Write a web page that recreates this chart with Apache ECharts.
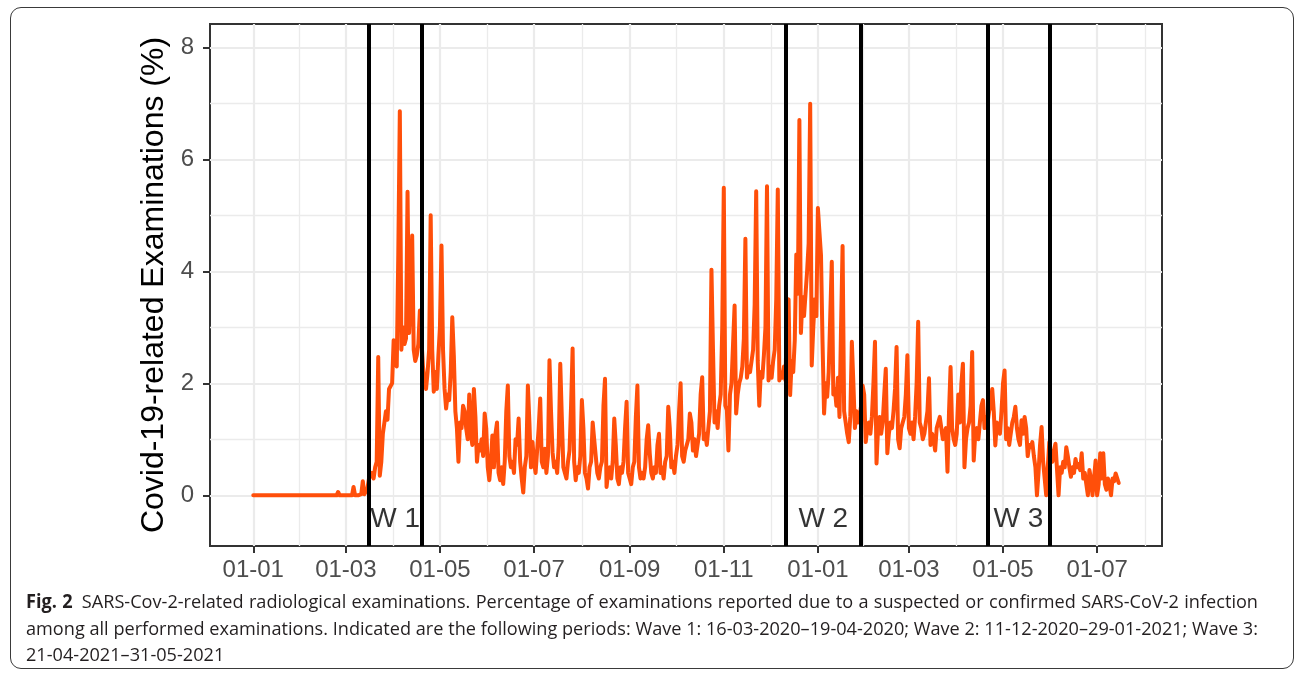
<!DOCTYPE html>
<html lang="en">
<head>
    <meta charset="UTF-8">
    <title>SARS-CoV-2-related radiological examinations</title>
    <script src="https://cdn.jsdelivr.net/npm/echarts@6.0.0/dist/echarts.min.js"></script>
    <style type="text/css">
        body { margin: 0; background: #fff; }
        #frame {
            position: absolute; left: 10px; top: 7px; width: 1284px; height: 662px;
            border: 1.3px solid #3a3a3a; border-radius: 11px; box-sizing: border-box;
        }
        #myChart { position: absolute; left: 0; top: 0; width: 1295px; height: 673px; }
        #caption {
            position: absolute; left: 26px; top: 588px;
            font-family: "Open Sans", "Noto Sans", sans-serif; font-size: 19px;
            line-height: 26.7px; color: #231f20; transform-origin: 0 0;
        }
        #caption .ln { white-space: nowrap; }
        #caption .j { text-align: justify; text-align-last: justify; }
        #caption b { margin-right: 4px; }
    </style>
</head>
<body>
<div id="frame"></div>
<div id="myChart"></div>
<div id="caption">
    <div class="ln j"><span><b>Fig. 2</b> SARS-Cov-2-related radiological examinations. Percentage of examinations reported due to a suspected or confirmed SARS-CoV-2 infection</span></div>
    <div class="ln j"><span>among all performed examinations. Indicated are the following periods: Wave 1: 16-03-2020–19-04-2020; Wave 2: 11-12-2020–29-01-2021; Wave 3:</span></div>
    <div class="ln"><span>21-04-2021–31-05-2021</span></div>
</div>

<script>
    // daily share (%) starting 2020-01-01, one row per week (Mon..Sun)
    var startDate = '2020-01-01';
    var values = [
        0, 0, 0, 0, 0,
        0, 0, 0, 0, 0, 0, 0,
        0, 0, 0, 0, 0, 0, 0,
        0, 0, 0, 0, 0, 0, 0,
        0, 0, 0, 0, 0, 0, 0,
        0, 0, 0, 0, 0, 0, 0,
        0, 0, 0, 0, 0, 0, 0,
        0, 0, 0, 0, 0, 0, 0,
        0, 0.06, 0, 0, 0, 0, 0,
        0, 0, 0, 0, 0.15, 0, 0,
        0, 0, 0.02, 0.25, 0.02, 0.05, 0.12,
        0.3, 0.35, 0.4, 0.3, 0.5, 0.6, 2.47,
        0.35, 0.6, 1.1, 1.3, 1.5, 1.35, 1.9,
        1.87, 2.0, 2.77, 2.5, 2.3, 4.3, 6.86,
        2.6, 3.0, 2.7, 2.8, 5.42, 2.9, 3.6,
        4.64, 2.6, 2.4, 2.5, 2.7, 3.3, 2.8,
        2.3, 2.0, 1.9, 2.2, 2.6, 5.0, 2.6,
        1.85, 2.2, 1.9, 2.5, 3.0, 4.46, 2.6,
        1.9, 1.55, 1.8, 1.7, 2.2, 3.18, 2.5,
        1.5, 1.2, 0.6, 1.3, 1.2, 1.6, 1.5,
        1.2, 1.0, 1.8, 1.1, 0.9, 1.9, 1.4,
        0.6, 0.9, 0.8, 1.0, 0.7, 1.46, 1.2,
        0.5, 0.27, 0.6, 1.07, 0.5, 1.1, 1.3,
        0.4, 0.27, 0.5, 0.2, 0.6, 1.5, 1.96,
        0.7, 0.5, 0.6, 0.4, 1.0, 0.9, 1.37,
        0.6, 0.3, 0.05, 0.5, 0.7, 1.96, 1.3,
        0.5, 0.95, 0.6, 0.4, 0.8, 1.2, 1.73,
        0.6, 0.5, 0.83, 0.4, 0.7, 2.41, 1.5,
        0.77, 0.5, 0.6, 0.4, 0.9, 2.35, 1.4,
        0.5, 0.4, 0.3, 0.6, 0.8, 1.6, 2.62,
        0.6, 0.27, 0.5, 0.4, 0.7, 1.7, 1.2,
        0.4, 0.3, 0.12, 0.5, 0.6, 1.3, 1.0,
        0.7, 0.4, 0.3, 0.5, 0.6, 1.6, 2.08,
        0.15, 0.4, 0.5, 0.3, 0.6, 1.37, 0.9,
        0.3, 0.2, 0.5, 0.4, 0.6, 1.2, 1.67,
        0.4, 0.3, 0.2, 0.5, 0.6, 1.4, 1.96,
        0.5, 0.3, 0.4, 0.3, 0.5, 1.0, 1.25,
        0.75, 0.4, 0.3, 0.5, 0.4, 0.9, 1.1,
        0.4, 0.5, 0.3, 0.6, 0.7, 1.58, 1.2,
        0.5, 0.6, 0.4, 0.7, 0.9, 1.5, 2.0,
        0.7, 0.6, 0.8, 0.9, 1.0, 1.46, 1.3,
        0.8, 1.0, 0.7, 0.9, 1.1, 1.8, 2.11,
        1.0, 1.1, 0.9, 1.2, 1.5, 4.03, 2.6,
        1.3, 1.5, 1.2, 1.6, 1.8, 3.0, 5.49,
        1.6, 1.52, 0.8, 1.8, 2.0, 2.7, 3.39,
        1.46, 1.8, 2.0, 2.1, 2.3, 2.8, 4.58,
        2.1, 2.3, 2.2, 2.4, 2.6, 3.4, 5.43,
        2.4, 1.6, 2.2, 2.1, 2.5, 3.0, 5.52,
        2.05, 2.3, 2.1, 2.4, 2.6, 3.5, 5.46,
        2.05, 2.2, 2.1, 2.3, 2.05, 3.4, 3.5,
        1.79, 2.4, 2.2, 2.77, 4.3, 3.6, 6.70,
        2.9, 3.54, 3.2, 3.6, 4.0, 4.5, 6.99,
        2.32, 3.0, 3.5, 3.2, 5.13, 4.7, 4.29,
        2.74, 1.46, 2.0, 1.76, 2.2, 3.2, 4.17,
        1.8, 1.9, 1.6, 2.1, 1.4, 3.0, 4.45,
        1.5, 1.3, 1.1, 0.95, 1.4, 2.74, 2.0,
        1.2, 1.5, 1.3, 1.4, 1.6, 1.96, 1.8,
        0.95, 1.2, 1.3, 1.1, 1.4, 2.0, 2.74,
        0.57, 1.2, 1.4, 1.1, 1.3, 1.8, 2.26,
        0.75, 1.1, 1.3, 1.2, 1.5, 1.9, 2.65,
        1.0, 0.84, 1.2, 1.3, 1.4, 1.8, 2.5,
        1.2, 1.1, 1.3, 1.0, 1.4, 2.0, 3.1,
        1.3, 1.2, 1.0, 1.1, 1.3, 1.5, 2.09,
        0.9, 1.1, 1.0, 0.8, 1.2, 1.3, 1.4,
        1.4, 1.0, 1.1, 1.2, 0.42, 1.5, 2.29,
        1.2, 1.0, 0.9, 1.1, 1.8, 1.3, 2.0,
        2.35, 0.5, 1.0, 1.2, 1.3, 1.6, 2.56,
        0.62, 1.1, 1.2, 1.0, 1.3, 1.6, 1.7,
        1.2, 1.4, 1.3, 1.5, 1.6, 1.9, 1.5,
        0.89, 1.3, 1.2, 1.1, 1.5, 2.0, 2.23,
        1.0, 1.2, 0.9, 1.1, 1.3, 1.4, 1.58,
        1.2, 1.0, 0.9, 1.34, 1.1, 1.4, 1.2,
        0.7, 0.9, 0.86, 0.95, 0.7, 0.5, 0.0,
        0.4, 0.9, 1.22, 0.6, 0.3, 0.0, 0.5,
        0.95, 0.7, 0.6, 0.8, 0.92, 0.95, 0.0,
        0.5, 0.4, 0.6, 0.5, 0.86, 0.7, 0.5,
        0.33, 0.5, 0.4, 0.65, 0.5, 0.56, 0.45,
        0.75, 0.3, 0.4, 0.2, 0.0, 0.45, 0.3,
        0.0, 0.3, 0.62, 0.0, 0.2, 0.75, 0.3,
        0.75, 0.2, 0.1, 0.3, 0.2, 0.0, 0.3,
        0.25, 0.39, 0.36, 0.22
    ];

    var tickDates = ['2020-01-01', '2020-03-01', '2020-05-01', '2020-07-01', '2020-09-01', '2020-11-01',
        '2021-01-01', '2021-03-01', '2021-05-01', '2021-07-01', '2021-09-01'];
    var tickLabels = ['01-01', '01-03', '01-05', '01-07', '01-09', '01-11', '01-01', '01-03', '01-05', '01-07', '01-09'];
    var yTicks = [0, 2, 4, 6, 8];
    var yMinorTicks = [1, 3, 5, 7];

    var waveNames = ['W 1', 'W 2', 'W 3'];
    var waveStart = ['2020-03-16', '2020-12-11', '2021-04-21'];
    var waveEnd = ['2020-04-19', '2021-01-29', '2021-05-31'];

    function dayOf(s) {
        return Math.round((Date.parse(s) - Date.parse(startDate)) / 86400000);
    }

    var lastDay = values.length - 1;
    var xMin = -0.05 * lastDay, xMax = lastDay * 1.05;
    var yMin = -0.905, yMax = 8.416;

    var majorX = tickDates.map(dayOf);
    var minorX = [];
    for (var i = 0; i < majorX.length - 1; i++) minorX.push((majorX[i] + majorX[i + 1]) / 2);
    var labelOf = {};
    majorX.forEach(function (d, i) { labelOf[d] = tickLabels[i]; });

    var lineData = values.map(function (v, i) { return [i, v]; });
    var waveLines = [];
    var waveLabels = [];
    for (var k = 0; k < waveNames.length; k++) {
        var a = dayOf(waveStart[k]), b = dayOf(waveEnd[k]);
        waveLines.push({ xAxis: a }, { xAxis: b });
        waveLabels.push({ name: waveNames[k], value: [(a + b) / 2, -0.42] });
    }

    var gridCol = '#ebebeb';
    var myChart = echarts.init(document.getElementById('myChart'), null, { renderer: 'canvas' });

    var option = {
        animation: false,
        textStyle: { fontFamily: 'Liberation Sans, Arial, sans-serif' },
        grid: {
            left: 210, top: 24, width: 952, height: 522,
            show: true, borderColor: '#333', borderWidth: 2, backgroundColor: 'transparent'
        },
        xAxis: [{
            type: 'value', min: xMin, max: xMax, position: 'bottom',
            axisLine: { show: false, onZero: false },
            axisTick: { show: true, length: 7, lineStyle: { color: '#333', width: 2 }, customValues: majorX },
            axisLabel: {
                customValues: majorX, fontSize: 24, color: '#4d4d4d', margin: 12,
                formatter: function (v) { return labelOf[Math.round(v)] || ''; }
            },
            splitLine: { show: true, lineStyle: { color: gridCol, width: 2.2 } }
        }, {
            type: 'value', min: xMin, max: xMax, position: 'bottom',
            axisLine: { show: false, onZero: false },
            axisTick: { show: false, customValues: minorX },
            axisLabel: { show: false },
            splitLine: { show: true, lineStyle: { color: gridCol, width: 1.3 } }
        }],
        yAxis: [{
            type: 'value', min: yMin, max: yMax, position: 'left',
            name: 'Covid-19-related Examinations (%)',
            nameLocation: 'middle', nameGap: 34,
            nameTextStyle: { fontSize: 32, color: '#000' },
            axisLine: { show: false, onZero: false },
            axisTick: { show: true, length: 7, lineStyle: { color: '#333', width: 2 }, customValues: yTicks },
            axisLabel: { customValues: yTicks, fontSize: 24, color: '#4d4d4d', margin: 16 },
            splitLine: { show: true, lineStyle: { color: gridCol, width: 2.2 } }
        }, {
            type: 'value', min: yMin, max: yMax, position: 'left',
            axisLine: { show: false, onZero: false },
            axisTick: { show: false, customValues: yMinorTicks },
            axisLabel: { show: false },
            splitLine: { show: true, lineStyle: { color: gridCol, width: 1.3 } }
        }],
        series: [{
            type: 'line',
            data: lineData,
            showSymbol: false,
            symbol: 'none',
            lineStyle: { color: '#ff4f0a', width: 4, cap: 'round', join: 'round' },
            silent: true,
            markLine: {
                silent: true,
                symbol: ['none', 'none'],
                label: { show: false },
                lineStyle: { color: '#000', width: 4, type: 'solid' },
                emphasis: { disabled: true },
                data: waveLines
            }
        }, {
            type: 'scatter',
            data: waveLabels,
            symbolSize: 1,
            itemStyle: { color: 'rgba(0,0,0,0)' },
            silent: true,
            label: {
                show: true, position: 'inside', formatter: '{b}',
                fontSize: 28, color: '#000'
            }
        }]
    };
    myChart.setOption(option);

    // fit caption lines to the block width
    var cap = document.getElementById('caption');
    var spans = cap.querySelectorAll('.ln span');
    var maxW = 0;
    spans.forEach(function (s) { maxW = Math.max(maxW, s.getBoundingClientRect().width); });
    var target = 1232;
    var sc = Math.min(1, target / maxW);
    cap.style.width = (target / sc) + 'px';
    cap.style.transform = 'scaleX(' + sc + ')';
</script>
</body>
</html>
